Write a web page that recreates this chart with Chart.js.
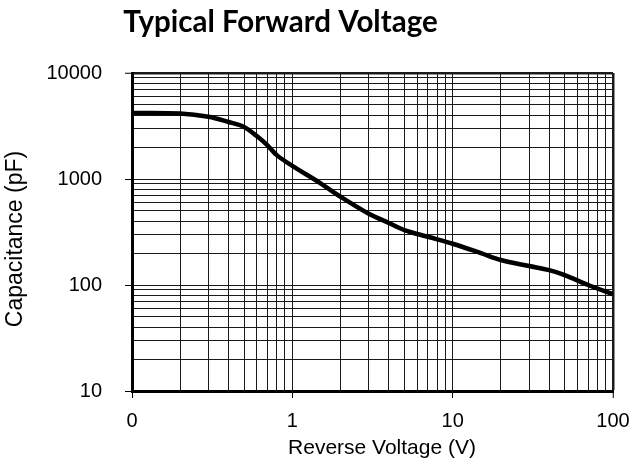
<!DOCTYPE html>
<html>
<head>
<meta charset="utf-8">
<script src="https://cdn.jsdelivr.net/npm/chart.js@4/dist/chart.umd.min.js"></script>
<style>
  html, body { margin: 0; padding: 0; background: #fff; }
  #wrap { width: 630px; height: 469px; }
</style>
</head>
<body>
<div id="wrap"><canvas id="c" width="630" height="469"></canvas></div>
<script>
// ---- data ----
const reverseVoltage = [0.1, 0.2, 0.3, 0.4, 0.5, 0.6, 0.7, 0.8, 1, 1.5, 2, 3, 4, 5, 7, 10, 15, 20, 30, 40, 50, 70, 100];
const capacitance   = [4200, 4150, 3870, 3450, 3100, 2540, 2080, 1680, 1330, 911, 680, 470, 385, 330, 285, 245, 200, 172, 151, 138, 124, 100, 82];
const xTickLabels = ['0', '1', '10', '100'];
const yTickLabels = ['10', '100', '1000', '10000'];
const chartTitle = 'Typical Forward Voltage';
const xTitle = 'Reverse Voltage (V)';
const yTitle = 'Capacitance (pF)';

const X_MIN = 0.1, X_MAX = 100, Y_MIN = 10, Y_MAX = 10000;

function logTicks(min, max) {
  const out = [];
  for (let e = Math.round(Math.log10(min)); e < Math.round(Math.log10(max)); e++) {
    for (let m = 1; m <= 9; m++) out.push({ value: +(m * Math.pow(10, e)).toPrecision(6) });
  }
  out.push({ value: max });
  return out;
}
function isDecade(v) { return Math.abs(Math.log10(v) - Math.round(Math.log10(v))) < 1e-9; }
function decadeIndex(v, min) { return Math.round(Math.log10(v) - Math.log10(min)); }

const titlesPlugin = {
  id: 'titles',
  afterDraw(chart) {
    const ctx = chart.ctx;
    ctx.save();
    ctx.fillStyle = '#000';
    // chart title
    ctx.font = 'bold 29.5px Lato';
    ctx.textAlign = 'center';
    ctx.textBaseline = 'alphabetic';
    ctx.fillText(chartTitle, 280.5, 32);
    // x title
    ctx.font = '21px "Liberation Sans", Arial, sans-serif';
    ctx.fillText(xTitle, 382, 454);
    // y title
    ctx.font = '23px "Liberation Sans", Arial, sans-serif';
    ctx.translate(22, 239);
    ctx.rotate(-Math.PI / 2);
    ctx.fillText(yTitle, 0, 0);
    ctx.restore();
  }
};

const gridColor = '#1a1a1a';

new Chart(document.getElementById('c'), {
  type: 'line',
  data: {
    datasets: [{
      data: reverseVoltage.map((v, i) => ({ x: v, y: capacitance[i] })),
      borderColor: '#000',
      borderWidth: 4.5,
      pointRadius: 0,
      fill: false,
      tension: 0.35
    }]
  },
  options: {
    responsive: false,
    animation: false,
    devicePixelRatio: 1,
    layout: { padding: { top: 73, right: 17, left: 0, bottom: 0 } },
    plugins: { legend: { display: false }, tooltip: { enabled: false }, title: { display: false } },
    scales: {
      x: {
        type: 'logarithmic',
        min: X_MIN, max: X_MAX,
        afterBuildTicks(scale) { scale.ticks = logTicks(X_MIN, X_MAX); },
        afterFit(scale) { scale.height = 78; scale.paddingLeft = 0; scale.paddingRight = 0; },
        ticks: {
          autoSkip: false,
          maxRotation: 0,
          padding: 11,
          color: '#000',
          font: { family: '"Liberation Sans", Arial, sans-serif', size: 20 },
          callback(v) { return isDecade(v) ? xTickLabels[decadeIndex(v, X_MIN)] : ''; }
        },
        grid: {
          color: gridColor,
          lineWidth: (c) => (c.tick && c.tick.value === X_MAX) ? 2.5 : 1,
          tickLength: 7,
          tickColor: (c) => (c.tick && isDecade(c.tick.value)) ? '#000' : 'rgba(0,0,0,0)',
          tickWidth: 1
        },
        border: { display: true, color: '#000', width: 3 }
      },
      y: {
        type: 'logarithmic',
        min: Y_MIN, max: Y_MAX,
        afterBuildTicks(scale) { scale.ticks = logTicks(Y_MIN, Y_MAX); },
        afterFit(scale) { scale.width = 132; scale.paddingTop = 0; scale.paddingBottom = 0; },
        ticks: {
          autoSkip: false,
          padding: 23,
          color: '#000',
          font: { family: '"Liberation Sans", Arial, sans-serif', size: 20 },
          callback(v) { return isDecade(v) ? yTickLabels[decadeIndex(v, Y_MIN)] : ''; }
        },
        grid: {
          color: gridColor,
          lineWidth: (c) => (c.tick && c.tick.value === Y_MAX) ? 2.5 : 1,
          tickLength: 7,
          tickColor: (c) => (c.tick && isDecade(c.tick.value)) ? '#000' : 'rgba(0,0,0,0)',
          tickWidth: 1
        },
        border: { display: true, color: '#000', width: 3 }
      }
    }
  },
  plugins: [titlesPlugin]
});
</script>
</body>
</html>
